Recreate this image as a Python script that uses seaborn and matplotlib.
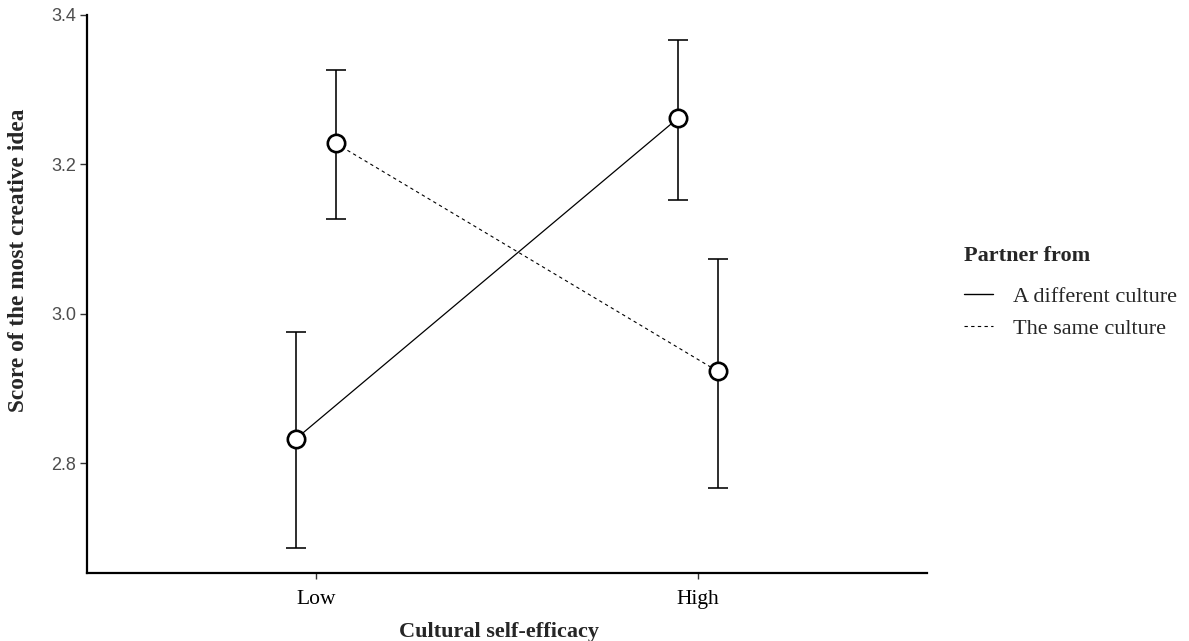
import matplotlib
matplotlib.use("Agg")
import matplotlib.pyplot as plt
from matplotlib.lines import Line2D
import numpy as np
import pandas as pd
import seaborn as sns

# values
efficacy_levels = ["Low", "High"]
partner_levels = ["A different culture", "The same culture"]
different_mean = [2.833, 3.262]
different_lower = [2.687, 3.153]
different_upper = [2.976, 3.366]
same_mean = [3.228, 2.923]
same_lower = [3.127, 2.767]
same_upper = [3.327, 3.074]
y_ticks = [2.8, 3.0, 3.2, 3.4]

df = pd.DataFrame({
    "efficacy": efficacy_levels * 2,
    "partner": [partner_levels[0]] * 2 + [partner_levels[1]] * 2,
    "score": different_mean + same_mean,
    "lower": different_lower + same_lower,
    "upper": different_upper + same_upper,
})

sns.set_style("white")
serif = ["Liberation Serif", "DejaVu Serif"]
plt.rcParams["font.family"] = serif

fig = plt.figure(figsize=(11.89, 6.41), dpi=100)
ax = fig.add_axes([0.0732, 0.1061, 0.7065, 0.8705])

dotted = (0, (3, 3))
sns.pointplot(data=df, x="efficacy", y="score", hue="partner",
              order=efficacy_levels, hue_order=partner_levels,
              palette=["black", "black"], markers="o", linestyles=["-", "-"],
              dodge=0.104, errorbar=None, legend=False, ax=ax,
              linewidth=0.9, markersize=12.5, markeredgewidth=1.9,
              markerfacecolor="white", markeredgecolor="black")

# pointplot lines: pick the dodged x positions for error bars
data_lines = [l for l in ax.lines if len(l.get_xdata()) == 2]
for line, partner in zip(data_lines, partner_levels):
    if partner == partner_levels[1]:
        line.set_linestyle(dotted)
        line.set_linewidth(0.8)
    sub = df[df["partner"] == partner].set_index("efficacy").loc[efficacy_levels]
    xs = np.asarray(line.get_xdata(), dtype=float)
    ax.errorbar(xs, sub["score"],
                yerr=[sub["score"] - sub["lower"], sub["upper"] - sub["score"]],
                fmt="none", ecolor="black", elinewidth=1.15, capsize=7,
                capthick=1.15, zorder=1)
    line.set_zorder(3)

ax.set_xlim(-0.6, 1.6)
ax.set_ylim(2.653, 3.4)
ax.set_yticks(y_ticks)
ax.set_yticklabels([f"{t:.1f}" for t in y_ticks], family=["Liberation Sans"],
                   color="#4D4D4D", fontsize=13)
ax.tick_params(axis="x", labelsize=15.5, labelcolor="black", length=4, width=1,
               color="#333333", pad=8, bottom=True)
ax.tick_params(axis="y", length=5, width=1, color="#333333", pad=3, left=True)

for side in ["top", "right"]:
    ax.spines[side].set_visible(False)
for side in ["left", "bottom"]:
    ax.spines[side].set_linewidth(1.6)
    ax.spines[side].set_color("black")

ax.set_xlabel("Cultural self-efficacy", fontsize=16, fontweight="bold")
ax.set_ylabel("Score of the most creative idea", fontsize=16.8, fontweight="bold")
ax.xaxis.set_label_coords(0.49, -0.087)
ax.yaxis.set_label_coords(-0.069, 0.561)

handles = [Line2D([], [], color="black", lw=1.0, linestyle="-"),
           Line2D([], [], color="black", lw=0.8, linestyle=dotted)]
leg = ax.legend(handles, partner_levels, title="Partner from", loc="upper left",
                bbox_to_anchor=(0.811, 0.617), bbox_transform=fig.transFigure,
                frameon=False, fontsize=16, handlelength=1.3, handletextpad=0.9,
                labelspacing=0.5, borderpad=0, borderaxespad=0,
                alignment="left",
                title_fontproperties={"weight": "bold", "size": 16, "family": serif})
# more room between the legend title and its entries
leg._legend_box.sep = 15

fig.savefig("out.png", dpi=100)
